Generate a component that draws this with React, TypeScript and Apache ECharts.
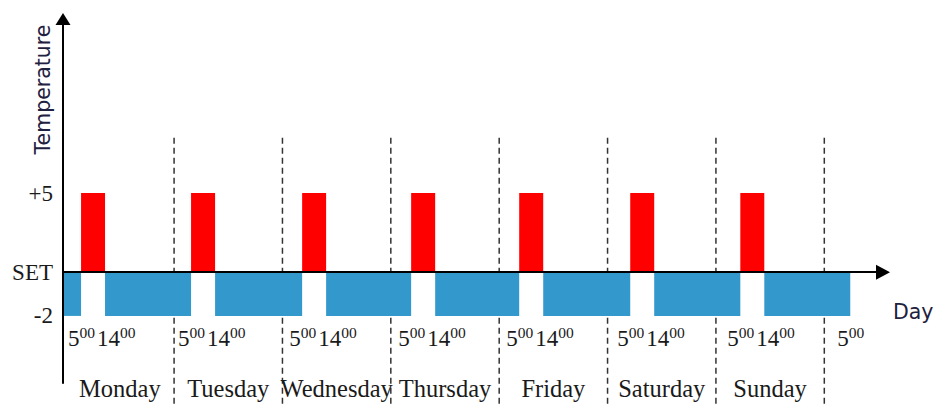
import React, { useEffect, useRef } from "react";
import * as echarts from "echarts";

// ---- data (x in drawn hours from Monday 00:00) ----
const days = ["Monday", "Tuesday", "Wednesday", "Thursday", "Friday", "Saturday", "Sunday"];
const dayBoundaries = [24, 48, 72, 96, 120, 144, 168];
const heatStart = [3.4, 27.76, 52.36, 76.5, 100.43, 125.02, 149.4];
const heatEnd = [8.71, 33.08, 57.67, 81.82, 105.75, 130.33, 154.71];
const heatValue = 5;
const setbackValue = -2;
const setbackStart = -0.6;
const setbackEnd = 173.75;
const yTickValues = [0, 5];
const yTickLabels = ["SET", "+5"];
const lowTickValues = [-2];
const lowTickLabels = ["-2"];
const timeOn = "5";
const timeOff = "14";

const setbackStarts = [setbackStart, ...heatEnd];
const setbackEnds = [...heatStart, setbackEnd];

const SERIF = "Liberation Serif";
const SANS = "DejaVu Sans";
const TXT = "#1a1a1a";
const NAVY = "#1e2140";

function rectItem(color: string) {
  return (params: any, api: any) => {
    const p0 = api.coord([api.value(0), api.value(2)]);
    const p1 = api.coord([api.value(1), 0]);
    return {
      type: "rect",
      shape: {
        x: p0[0],
        y: Math.min(p0[1], p1[1]),
        width: p1[0] - p0[0],
        height: Math.abs(p1[1] - p0[1]),
      },
      style: { fill: color },
    };
  };
}

export default function App() {
  const ref = useRef<HTMLDivElement>(null);
  useEffect(() => {
    if (!ref.current) return;
    const chart = echarts.init(ref.current, null, { renderer: "svg" });
    const rich = {
      a: { fontFamily: SERIF, fontSize: 23, lineHeight: 28, fill: TXT, color: TXT },
      c: { fontFamily: SERIF, fontSize: 23, lineHeight: 28, padding: [0, 0, 0, 2], fill: TXT, color: TXT },
      b: { fontFamily: SERIF, fontSize: 15.5, lineHeight: 12, verticalAlign: "top", fill: TXT, color: TXT },
    };
    chart.setOption({
      animation: false,
      grid: { left: 63, right: 51, top: 19, bottom: 23, containLabel: false, outerBoundsMode: "none" },
      xAxis: {
        type: "value",
        min: setbackStart,
        max: 181,
        z: 10,
        axisLine: {
          show: true,
          onZero: true,
          onZeroAxisIndex: 0,
          symbol: ["none", "triangle"],
          symbolSize: [15, 14],
          lineStyle: { color: "#000", width: 2 },
        },
        axisTick: { show: false },
        axisLabel: { show: false },
        splitLine: { show: false },
        name: "Day",
        nameLocation: "end",
        nameGap: 10,
        nameTextStyle: {
          fontFamily: SANS,
          fontSize: 20.5,
          color: NAVY,
          align: "left",
          verticalAlign: "top",
          padding: [29, 0, 0, 0],
        },
      },
      yAxis: [
        {
          type: "value",
          min: -7,
          max: 16,
          position: "left",
          z: 10,
          axisLine: {
            show: true,
            onZero: false,
            symbol: ["none", "triangle"],
            symbolSize: [15, 12],
            lineStyle: { color: "#000", width: 2 },
          },
          axisTick: { show: false },
          splitLine: { show: false },
          axisLabel: {
            customValues: yTickValues,
            formatter: (v: number) => {
              const i = yTickValues.indexOf(v);
              return i >= 0 ? yTickLabels[i] : "";
            },
            fontFamily: SERIF,
            fontSize: 23,
            color: TXT,
            margin: 10,
            padding: [4, 0, 0, 0],
          },
        },
        {
          type: "value",
          min: -5.05,
          max: 11.5,
          position: "left",
          axisLine: { show: false, onZero: false },
          axisTick: { show: false },
          splitLine: { show: false },
          axisLabel: {
            customValues: lowTickValues,
            formatter: (v: number) => {
              const i = lowTickValues.indexOf(v);
              return i >= 0 ? lowTickLabels[i] : "";
            },
            fontFamily: SERIF,
            fontSize: 23,
            color: TXT,
            margin: 10,
            padding: [8, 0, 0, 0],
          },
        },
      ],
      graphic: [
        {
          type: "text",
          x: 43,
          y: 89.5,
          rotation: Math.PI / 2,
          style: {
            text: "Temperature",
            font: `20.5px "${SANS}"`,
            fill: NAVY,
            align: "center",
            verticalAlign: "middle",
            textAlign: "center",
            textVerticalAlign: "middle",
          },
        },
      ],
      series: [
        {
          type: "custom",
          name: "day boundaries",
          xAxisIndex: 0,
          yAxisIndex: 0,
          clip: false,
          data: dayBoundaries.map((b) => [b, 0]),
          encode: { x: 0, y: 1 },
          renderItem: (params: any, api: any) => {
            const t = api.coord([api.value(0), 8.5]);
            const b = api.coord([api.value(0), -8.6]);
            return {
              type: "line",
              shape: { x1: t[0], y1: t[1], x2: b[0], y2: b[1] },
              style: { stroke: "#333", lineWidth: 1.5, lineDash: [6, 4] },
            };
          },
        },
        {
          type: "custom",
          name: "setback",
          xAxisIndex: 0,
          yAxisIndex: 1,
          data: setbackStarts.map((s, i) => [s, setbackEnds[i], setbackValue]),
          encode: { x: [0, 1], y: 2 },
          renderItem: rectItem("#3399cc"),
        },
        {
          type: "custom",
          name: "heating",
          xAxisIndex: 0,
          yAxisIndex: 0,
          data: heatStart.map((s, i) => [s, heatEnd[i], heatValue]),
          encode: { x: [0, 1], y: 2 },
          renderItem: rectItem("#ff0000"),
        },
        {
          type: "custom",
          name: "time labels",
          xAxisIndex: 0,
          yAxisIndex: 0,
          clip: false,
          data: [...heatStart, setbackEnd].map((s) => [s, 0]),
          encode: { x: 0, y: 1 },
          renderItem: (params: any, api: any) => {
            const p = api.coord([api.value(0), 0]);
            const full = params.dataIndex < heatStart.length;
            const text = full
              ? `{a|${timeOn}}{b|00}{c|${timeOff}}{b|00}`
              : `{a|${timeOn}}{b|00}`;
            return {
              type: "text",
              x: p[0] - 13,
              y: p[1] + 52,
              style: {
                text,
                rich,
                fill: TXT,
                align: "left",
                verticalAlign: "top",
              },
            };
          },
        },
        {
          type: "custom",
          name: "day names",
          xAxisIndex: 0,
          yAxisIndex: 0,
          clip: false,
          data: dayBoundaries.map((b, i) => [((i === 0 ? 0 : dayBoundaries[i - 1]) + b) / 2, 0]),
          encode: { x: 0, y: 1 },
          renderItem: (params: any, api: any) => {
            const p = api.coord([api.value(0), 0]);
            return {
              type: "text",
              x: p[0],
              y: p[1] + 116,
              style: {
                text: days[params.dataIndex],
                font: `24.5px "${SERIF}"`,
                fill: TXT,
                align: "center",
                verticalAlign: "middle",
              },
            };
          },
        },
      ],
    });
    return () => chart.dispose();
  }, []);
  return (
    <div
      ref={ref}
      style={{ position: "fixed", left: 0, top: 0, width: 934, height: 406, background: "#fff" }}
    />
  );
}
